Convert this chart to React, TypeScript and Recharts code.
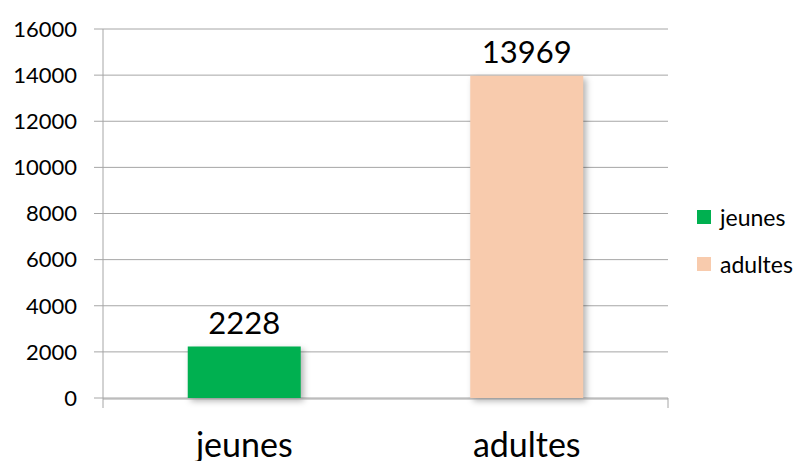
import React from 'react';
import { BarChart, Bar, XAxis, YAxis, CartesianGrid, Cell, LabelList } from 'recharts';

const categories = ['jeunes', 'adultes'];
const counts = [2228, 13969];
const yTicks = [0, 2000, 4000, 6000, 8000, 10000, 12000, 14000, 16000];
const edgeTicks = [0, 1, 2];
const colors = ['#00B050', '#F8CBAD'];

const data = categories.map((name, i) => ({ name, value: counts[i] }));

const font = 'Lato, "Noto Sans", sans-serif';
const gray = '#a6a6a6';

export default function App() {
  return (
    <div style={{ position: 'absolute', left: 0, top: 0, width: 800, height: 461, background: '#fff', fontFamily: font }}>
      <style>{`.recharts-bar-rectangle path { filter: drop-shadow(3px 3px 3px rgba(0,0,0,0.3)); }`}</style>
      <BarChart
        width={800}
        height={461}
        data={data}
        margin={{ top: 29, right: 132, bottom: 0, left: 0 }}
        barCategoryGap="30%"
      >
        <CartesianGrid vertical={false} stroke={gray} strokeWidth={1} xAxisId="b" />
        {/* boundary tick marks between categories */}
        <XAxis
          xAxisId="a"
          type="number"
          domain={[0, 2]}
          ticks={edgeTicks}
          tick={() => <g />}
          axisLine={false}
          tickLine={{ stroke: gray }}
          tickSize={10}
          height={1}
        />
        <XAxis
          xAxisId="b"
          dataKey="name"
          axisLine={{ stroke: gray }}
          tickLine={false}
          tickSize={0}
          tickMargin={34}
          height={62}
          tick={{ fill: '#000', fontSize: 34, fontFamily: font }}
        />
        <YAxis
          domain={[0, 16000]}
          ticks={yTicks}
          width={103}
          axisLine={{ stroke: gray }}
          tickLine={{ stroke: gray }}
          tickSize={9}
          tickMargin={17}
          tick={{ fill: '#000', fontSize: 22, fontFamily: font }}
        />
        <Bar dataKey="value" xAxisId="b" isAnimationActive={false}>
          {data.map((d, i) => (
            <Cell key={d.name} fill={colors[i]} />
          ))}
          <LabelList dataKey="value" position="top" offset={13} fill="#000" fontSize={31} fontFamily={font} />
        </Bar>
      </BarChart>
      <div style={{ position: 'absolute', left: 697, top: 202 }}>
        {categories.map((c, i) => (
          <div key={c} style={{ display: 'flex', alignItems: 'center', height: 30, marginBottom: 17 }}>
            <div style={{ width: 14, height: 14, background: colors[i], marginRight: 9 }} />
            <span style={{ fontSize: 23, color: '#000' }}>{c}</span>
          </div>
        ))}
      </div>
    </div>
  );
}
